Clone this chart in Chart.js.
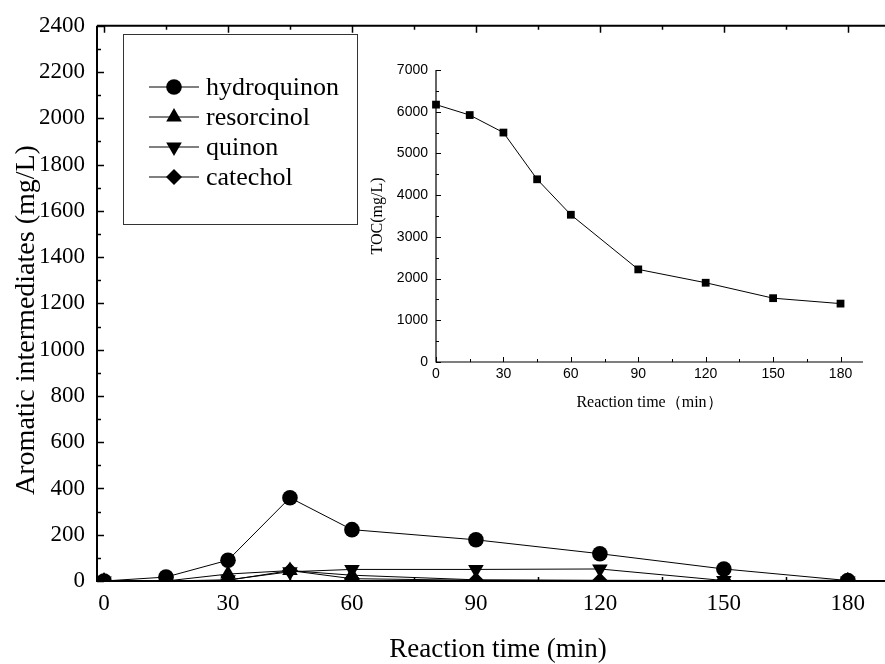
<!DOCTYPE html>
<html>
<head>
<meta charset="utf-8">
<script src="https://cdn.jsdelivr.net/npm/chart.js@4.4.0/dist/chart.umd.min.js"></script>
<style>
  html, body { margin: 0; padding: 0; background: #fff; }
  #wrap { position: relative; width: 885px; height: 664px; }
  #main { position: absolute; left: 0; top: 0; }
  #inset { position: absolute; left: 360px; top: 50px; }
</style>
</head>
<body>
<div id="wrap">
  <canvas id="main" width="885" height="664"></canvas>
  <canvas id="inset" width="515" height="370"></canvas>
</div>
<script>
// reaction time (min)
const times = [0, 15, 30, 45, 60, 90, 120, 150, 180];

// aromatic intermediates (mg/L)
const hydroquinon = [0, 17, 90, 360, 222, 178, 118, 52, 2];
const resorcinol = [0, 0, 30, 45, 25, 5, 3, 2, 0];
const quinon = [0, 0, 5, 40, 50, 50, 52, 2, 0];
const catechol = [0, 0, 3, 45, 10, 3, 2, 2, 3];

// inset: TOC (mg/L)
const toc = [6170, 5920, 5500, 4380, 3530, 2220, 1900, 1530, 1400];

const mainXTicks = [0, 30, 60, 90, 120, 150, 180];
const mainYTicks = [0, 200, 400, 600, 800, 1000, 1200, 1400, 1600, 1800, 2000, 2200, 2400];
const tocXTicks = [0, 30, 60, 90, 120, 150, 180];
const tocYTicks = [0, 1000, 2000, 3000, 4000, 5000, 6000, 7000];

const mainXTitle = 'Reaction time (min)';
const mainYTitle = 'Aromatic intermediates (mg/L)';

const SERIF = '"Liberation Serif", "Times New Roman", serif';
const SANS = '"Liberation Sans", Arial, sans-serif';

const toPoints = (vals) => vals.map((v, i) => ({ x: times[i], y: v }));
const plain = (v) => String(v);

// axis lines + inward ticks (major and minor)
function axesPlugin(o) {
  return {
    id: 'axes',
    afterDraw(chart) {
      const { ctx, chartArea: a, scales: { x, y } } = chart;
      ctx.save();
      ctx.strokeStyle = '#000';
      ctx.lineWidth = o.axisWidth;
      ctx.beginPath();
      ctx.moveTo(a.left, a.top);
      ctx.lineTo(a.left, a.bottom);
      ctx.lineTo(a.right, a.bottom);
      if (o.top) {
        ctx.moveTo(a.left, a.top);
        ctx.lineTo(a.right, a.top);
      }
      ctx.stroke();

      ctx.lineWidth = o.tickWidth;
      ctx.beginPath();
      for (let v = 0; v <= x.max; v += o.xMinor) {
        const px = Math.round(x.getPixelForValue(v)) + 0.5;
        if (px < a.left || px > a.right) continue;
        const len = v % o.xMajor === 0 ? o.major : o.minor;
        ctx.moveTo(px, a.bottom);
        ctx.lineTo(px, a.bottom - len);
        if (o.top) {
          ctx.moveTo(px, a.top);
          ctx.lineTo(px, a.top + len);
        }
      }
      for (let v = 0; v <= y.max; v += o.yMinor) {
        const py = Math.round(y.getPixelForValue(v)) + 0.5;
        const len = v % o.yMajor === 0 ? o.major : o.minor;
        ctx.moveTo(a.left, py);
        ctx.lineTo(a.left + len, py);
      }
      ctx.stroke();
      ctx.restore();
    }
  };
}

// boxed legend: line through marker, then label
const boxLegend = {
  id: 'boxLegend',
  afterDraw(chart) {
    const ctx = chart.ctx;
    ctx.save();
    ctx.strokeStyle = '#333';
    ctx.lineWidth = 1;
    ctx.strokeRect(123.5, 34.5, 234, 190);
    chart.data.datasets.forEach((ds, i) => {
      const yy = 87 + i * 30;
      ctx.strokeStyle = '#000';
      ctx.lineWidth = 1;
      ctx.beginPath();
      ctx.moveTo(149, yy);
      ctx.lineTo(199, yy);
      ctx.stroke();
      ctx.fillStyle = '#000';
      Chart.helpers.drawPoint(ctx, {
        pointStyle: ds.pointStyle,
        rotation: ds.pointRotation || 0,
        radius: ds.pointRadius,
        borderWidth: 0
      }, 174, yy);
      ctx.font = '26px ' + SERIF;
      ctx.textBaseline = 'middle';
      ctx.textAlign = 'left';
      ctx.fillText(ds.label, 206, yy + 1);
    });
    ctx.restore();
  }
};

// axis titles of the main panel
const mainTitles = {
  id: 'mainTitles',
  afterDraw(chart) {
    const ctx = chart.ctx;
    ctx.save();
    ctx.fillStyle = '#000';
    ctx.textAlign = 'center';
    ctx.textBaseline = 'alphabetic';
    ctx.font = '27px ' + SERIF;
    ctx.fillText(mainXTitle, 498, 657);
    ctx.translate(34, 320);
    ctx.rotate(-Math.PI / 2);
    ctx.font = '28px ' + SERIF;
    ctx.fillText(mainYTitle, 0, 0);
    ctx.restore();
  }
};

function series(label, vals, style, radius, rotation) {
  return {
    label: label,
    data: toPoints(vals),
    borderColor: '#000',
    backgroundColor: '#000',
    borderWidth: 1,
    pointStyle: style,
    pointRadius: radius,
    pointRotation: rotation || 0,
    pointBorderWidth: 0,
    pointBackgroundColor: '#000',
    tension: 0
  };
}

const noSidePad = (s) => { s.paddingLeft = 0; s.paddingRight = 0; };

new Chart(document.getElementById('main'), {
  type: 'line',
  data: {
    datasets: [
      series('hydroquinon', hydroquinon, 'circle', 7.8),
      series('resorcinol', resorcinol, 'triangle', 9),
      series('quinon', quinon, 'triangle', 9, 180),
      series('catechol', catechol, 'rectRot', 8)
    ]
  },
  options: {
    responsive: false,
    animation: false,
    events: [],
    layout: { autoPadding: false, padding: { top: 25, right: 0, left: 0, bottom: 0 } },
    plugins: { legend: { display: false }, tooltip: { enabled: false } },
    scales: {
      x: {
        type: 'linear',
        min: -1.7,
        max: 189,
        afterBuildTicks: (s) => { s.ticks = mainXTicks.map(v => ({ value: v })); },
        afterFit: (s) => { s.height = 83; noSidePad(s); },
        grid: { display: false, drawTicks: false },
        border: { display: false },
        ticks: { color: '#000', padding: 9, maxRotation: 0, callback: plain, font: { family: SERIF, size: 23 } }
      },
      y: {
        type: 'linear',
        min: 0,
        max: 2400,
        afterBuildTicks: (s) => { s.ticks = mainYTicks.map(v => ({ value: v })); },
        afterFit: (s) => { s.width = 97; },
        grid: { display: false, drawTicks: false },
        border: { display: false },
        ticks: { color: '#000', padding: 12, callback: plain, font: { family: SERIF, size: 23 } }
      }
    }
  },
  plugins: [
    axesPlugin({ axisWidth: 2, tickWidth: 1.5, top: true, xMajor: 30, xMinor: 15, yMajor: 200, yMinor: 100, major: 7, minor: 4 }),
    boxLegend,
    mainTitles
  ]
});

new Chart(document.getElementById('inset'), {
  type: 'line',
  data: {
    datasets: [{
      label: 'TOC',
      data: toPoints(toc),
      borderColor: '#000',
      backgroundColor: '#000',
      borderWidth: 1,
      pointStyle: 'rect',
      pointRadius: 5.5,
      pointBorderWidth: 0,
      pointBackgroundColor: '#000',
      clip: false,
      tension: 0
    }]
  },
  options: {
    responsive: false,
    animation: false,
    events: [],
    layout: { autoPadding: false, padding: { top: 20, right: 12, left: 0, bottom: 0 } },
    plugins: { legend: { display: false }, tooltip: { enabled: false } },
    scales: {
      x: {
        type: 'linear',
        min: 0,
        max: 190,
        afterBuildTicks: (s) => { s.ticks = tocXTicks.map(v => ({ value: v })); },
        afterFit: (s) => { s.height = 58; noSidePad(s); },
        grid: { display: false, drawTicks: false },
        border: { display: false },
        ticks: { color: '#000', padding: 4, maxRotation: 0, callback: plain, font: { family: SANS, size: 14 } },
        title: {
          display: true,
          text: 'Reaction time（min）',
          color: '#000',
          font: { family: SERIF, size: 16 },
          padding: { top: 0, bottom: 8 }
        }
      },
      y: {
        type: 'linear',
        min: 0,
        max: 7000,
        afterBuildTicks: (s) => { s.ticks = tocYTicks.map(v => ({ value: v })); },
        afterFit: (s) => { s.width = 76; },
        grid: { display: false, drawTicks: false },
        border: { display: false },
        ticks: { color: '#000', padding: 8, callback: plain, font: { family: SANS, size: 14 } },
        title: {
          display: true,
          text: 'TOC(mg/L)',
          color: '#000',
          font: { family: SERIF, size: 16 },
          padding: { top: 8, bottom: 0 }
        }
      }
    }
  },
  plugins: [
    axesPlugin({ axisWidth: 1.2, tickWidth: 1, top: false, xMajor: 30, xMinor: 15, yMajor: 1000, yMinor: 500, major: 5, minor: 3 })
  ]
});
</script>
</body>
</html>
